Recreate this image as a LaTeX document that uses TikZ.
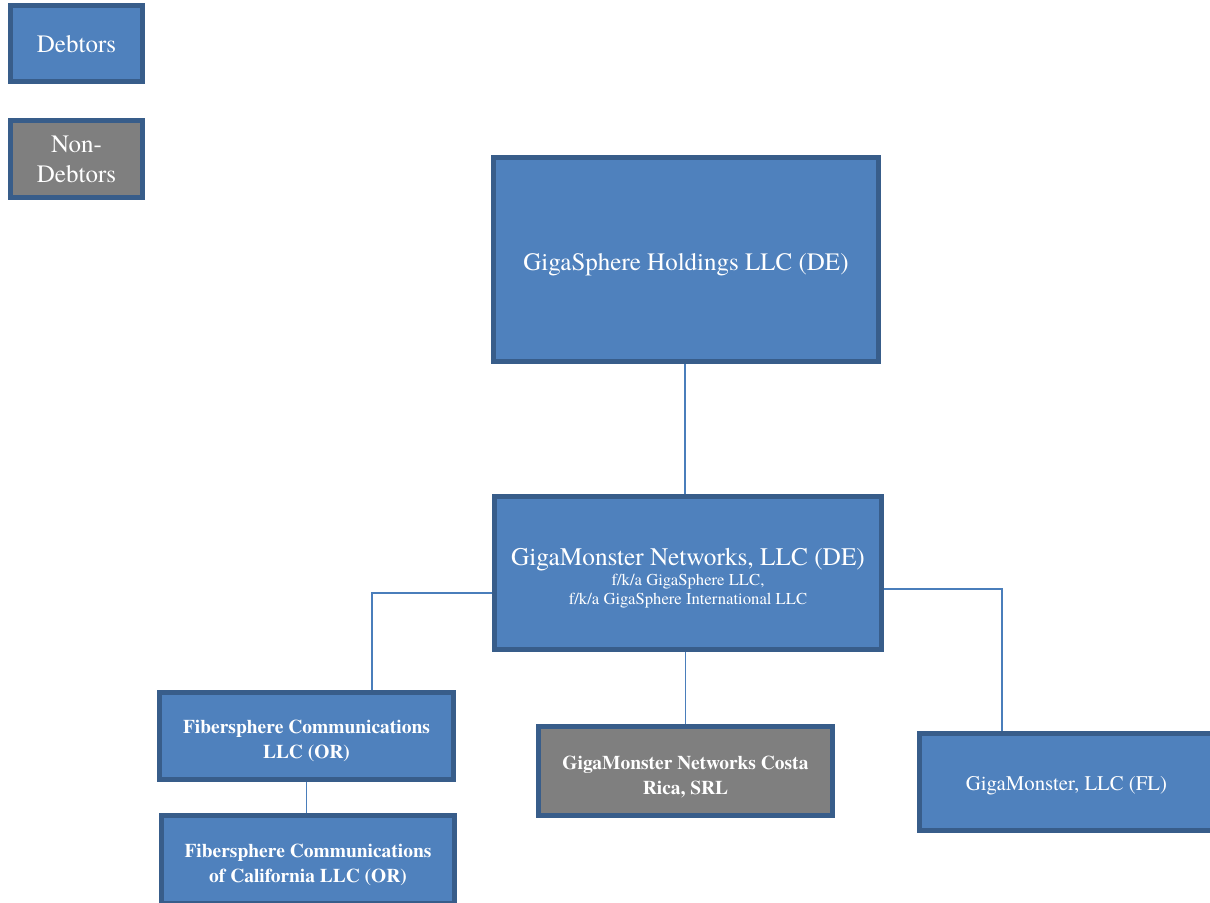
\documentclass[tikz,border=0pt]{standalone}
\usepackage{fontspec}
\setmainfont{texgyretermes}[Extension=.otf, UprightFont=*-regular, BoldFont=*-bold, ItalicFont=*-italic, BoldItalicFont=*-bolditalic]
\definecolor{boxblue}{HTML}{4F81BD}
\definecolor{boxedge}{HTML}{385D8A}
\definecolor{boxgray}{HTML}{7F7F7F}
\definecolor{linkblue}{HTML}{4A7EBB}
\pgfdeclarelayer{bg}
\pgfsetlayers{bg,main}
\newcommand{\lift}[1]{\rule{0pt}{#1}}
\begin{document}
\begin{tikzpicture}[x=0.75pt,y=-0.75pt,
  ent/.style 2 args={draw=boxedge, line width=3.75pt, fill=boxblue, text=white,
    inner sep=0pt, align=center, minimum width=#1*0.75pt, minimum height=#2*0.75pt},
  nondebt/.style={fill=boxgray},
  big/.style={font=\fontsize{18.75}{22.5}\selectfont},
  small/.style={font=\bfseries\fontsize{14.6}{18.75}\selectfont},
  link/.style={draw=linkblue, line width=0.9pt}]
\useasboundingbox (0,0) rectangle (1210,903);
\clip (0,0) rectangle (1210,903);

\node[ent={132}{76}, big] (leg1) at (76.5,43.5) {\lift{14pt}Debtors};
\node[ent={132}{77}, nondebt, big] (leg2) at (76.5,159) {Non-\\Debtors};

\node[ent={385}{204}, big] (hold) at (686,259.5) {\lift{20.4pt}GigaSphere Holdings LLC (DE)};
\node[ent={387}{153}, font=\fontsize{12.5}{14.25}\selectfont] (net) at (688,573)
  {{\fontsize{19}{22}\selectfont\lift{20.6pt}GigaMonster Networks, LLC (DE)}\\[1pt]f/k/a GigaSphere LLC,\\f/k/a GigaSphere International LLC};

\node[ent={294}{87}, small] (fib) at (306.5,736) {\lift{17.6pt}Fibersphere Communications\\LLC (OR)};
\node[ent={293}{88}, small] (fibca) at (308,859.5) {\lift{17.6pt}Fibersphere Communications\\of California LLC (OR)};
\node[ent={294}{89}, nondebt, small] (cr) at (685.5,771) {\lift{19pt}GigaMonster Networks Costa\\Rica, SRL};
\node[ent={294}{97}, font=\fontsize{15.6}{18}\selectfont] (fl) at (1066.5,782) {\lift{16.8pt}GigaMonster, LLC (FL)};

\coordinate (jl) at (372,593);
\coordinate (jr) at (1002,589);
\coordinate (jt) at (685,0);

\begin{pgfonlayer}{bg}
\fill[white] (0,0) rectangle (1210,903);
\draw[link] (jt |- hold.south) -- (jt |- net.north);
\draw[link] (net.west |- jl) -- (jl) -- (jl |- fib.north);
\draw[link] (net.east |- jr) -- (jr) -- (jr |- fl.north);
\draw[link] (cr.north |- net.south) -- (cr.north);
\draw[link] (fib.south) -- (fib.south |- fibca.north);
\end{pgfonlayer}
\end{tikzpicture}
\end{document}
